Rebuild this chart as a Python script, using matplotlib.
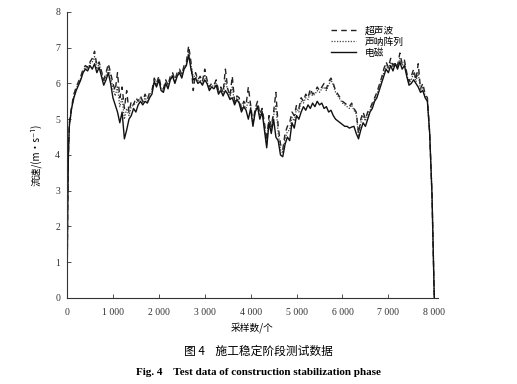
import matplotlib
matplotlib.use("Agg")
import matplotlib.pyplot as plt

# ---------------- data ----------------
samples = [0, 15, 30] + list(range(50, 7900, 50)) + [7900, 7950, 8000]

head = [0.0, 2.5, 4.0]
tail = [4.6, 2.9, 0.0]

em_body = [  # 电磁 (solid)
    4.8, 5.3, 5.6, 5.8, 5.95, 6.1, 6.3, 6.4, 6.35, 6.5,
    6.4, 6.55, 6.3, 6.45, 6.2, 5.95, 6.1, 6.3, 6.0, 5.6,
    5.4, 5.2, 4.9, 5.2, 4.45, 4.7, 5.0, 5.1, 5.3, 5.2,
    5.4, 5.5, 5.4, 5.5, 5.45, 5.6, 5.7, 6.05, 5.9, 6.1,
    5.8, 5.75, 6.0, 5.85, 6.1, 6.2, 6.0, 6.2, 6.3, 6.15,
    6.4, 6.5, 6.8, 6.4, 6.1, 6.15, 6.0, 6.05, 5.95, 6.1,
    6.0, 5.8, 5.9, 5.85, 5.95, 5.7, 5.8, 5.65, 5.8, 5.7,
    5.55, 5.6, 5.4, 5.55, 5.45, 5.2, 5.35, 5.25, 5.0, 5.3,
    4.8, 5.2, 5.35, 5.0, 5.2, 4.7, 4.2, 4.9, 4.6, 5.0,
    4.5, 4.4, 4.0, 3.95, 4.3, 4.5, 4.4, 4.9, 4.75, 5.1,
    5.0, 5.2, 5.35, 5.25, 5.4, 5.3, 5.45, 5.35, 5.5, 5.4,
    5.45, 5.3, 5.35, 5.2, 5.25, 5.1, 5.0, 4.95, 4.9, 4.85,
    4.8, 4.8, 4.75, 4.78, 4.8, 4.6, 4.45, 4.7, 4.9, 4.8,
    5.0, 5.2, 5.3, 5.5, 5.6, 5.8, 6.0, 6.2, 6.4, 6.3,
    6.5, 6.35, 6.55, 6.4, 6.6, 6.4, 6.5, 6.2, 5.95, 6.0,
    6.1, 6.0, 5.9, 5.75, 5.8, 5.6, 5.5,
]

us_body = [  # 超声波 (dashed)
    4.9, 5.35, 5.7, 5.9, 6.05, 6.2, 6.4, 6.5, 6.45, 6.6,
    6.7, 6.9, 6.5, 6.6, 6.35, 6.1, 6.3, 6.55, 6.3, 6.0,
    5.8, 6.3, 5.6, 5.9, 5.3, 5.8, 5.2, 5.5, 5.4, 5.6,
    5.5, 5.65, 5.5, 5.7, 5.55, 5.75, 5.8, 6.15, 6.0, 6.2,
    5.9, 5.85, 6.1, 5.95, 6.2, 6.3, 6.1, 6.3, 6.4, 6.25,
    6.5, 6.6, 7.05, 6.6, 5.8, 6.3, 6.1, 6.2, 6.05, 6.4,
    6.1, 5.9, 6.0, 5.95, 6.1, 5.8, 5.9, 5.75, 6.4, 5.85,
    5.65, 6.2, 5.5, 5.65, 5.6, 5.3, 5.5, 5.4, 5.9, 5.4,
    4.9, 5.3, 5.5, 5.15, 5.3, 4.9, 4.4, 5.1, 4.8, 5.2,
    5.75, 4.8, 4.3, 4.15, 4.6, 4.8, 4.9, 5.2, 5.1, 5.4,
    5.3, 5.6, 5.5, 5.7, 5.6, 5.85, 5.7, 5.75, 5.9, 5.8,
    5.9, 6.0, 5.85, 6.05, 6.15, 6.0, 5.8, 5.7, 5.6, 5.5,
    5.45, 5.4, 5.35, 5.45, 5.3, 5.2, 4.6, 5.0, 5.2, 5.0,
    5.2, 5.3, 5.45, 5.6, 5.75, 5.95, 6.15, 6.4, 6.6, 6.45,
    6.7, 6.5, 6.6, 6.5, 6.85, 6.55, 6.65, 6.3, 6.05, 6.2,
    6.4, 6.1, 6.55, 5.85, 6.0, 5.7, 5.6,
]

sonar_body = [  # 声呐阵列 (dotted)
    4.85, 5.3, 5.65, 5.85, 6.0, 6.15, 6.35, 6.45, 6.4, 6.55,
    6.6, 6.75, 6.4, 6.55, 6.3, 6.05, 6.2, 6.45, 6.2, 5.85,
    5.65, 5.9, 5.35, 5.6, 5.0, 5.3, 5.1, 5.35, 5.4, 5.45,
    5.5, 5.6, 5.45, 5.6, 5.5, 5.7, 5.75, 6.1, 5.95, 6.15,
    5.85, 5.8, 6.05, 5.9, 6.15, 6.25, 6.05, 6.25, 6.35, 6.2,
    6.45, 6.55, 6.9, 6.5, 6.2, 6.2, 6.05, 6.1, 6.0, 6.25,
    6.05, 5.85, 5.95, 5.9, 6.0, 5.75, 5.85, 5.7, 6.1, 5.8,
    5.6, 5.9, 5.45, 5.6, 5.5, 5.25, 5.4, 5.3, 5.5, 5.35,
    4.85, 5.25, 5.4, 5.1, 5.25, 4.8, 4.3, 5.0, 4.7, 5.1,
    5.4, 4.6, 4.15, 4.05, 4.45, 4.65, 4.7, 5.05, 4.95, 5.3,
    5.2, 5.5, 5.45, 5.6, 5.55, 5.75, 5.65, 5.7, 5.8, 5.75,
    5.85, 5.9, 5.8, 5.95, 6.1, 5.95, 5.75, 5.65, 5.55, 5.45,
    5.4, 5.35, 5.3, 5.4, 5.25, 5.15, 4.55, 4.9, 5.1, 4.95,
    5.1, 5.25, 5.4, 5.55, 5.7, 5.9, 6.1, 6.3, 6.5, 6.4,
    6.6, 6.45, 6.55, 6.45, 6.7, 6.5, 6.6, 6.25, 6.0, 6.1,
    6.3, 6.05, 6.3, 5.8, 5.9, 5.65, 5.55,
]

ultrasonic = head + us_body + tail
sonar = head + sonar_body + tail
electromag = head + em_body + tail

series_names = ["超声波", "声呐阵列", "电磁"]
xticks = [0, 1000, 2000, 3000, 4000, 5000, 6000, 7000, 8000]
xtick_labels = ["0", "1 000", "2 000", "3 000", "4 000", "5 000", "6 000", "7 000", "8 000"]
yticks = [0, 1, 2, 3, 4, 5, 6, 7, 8]

# ---------------- plot ----------------
CJK = ["Noto Sans CJK SC", "DejaVu Sans"]
SERIF = ["Liberation Serif", "DejaVu Serif"]

fig = plt.figure(figsize=(5.17, 3.84), dpi=100)
ax = fig.add_axes([0.1296, 0.224, 0.7175, 0.745])

ax.plot(samples, ultrasonic, color="#222222", lw=1.0, ls=(0, (4, 3)), label=series_names[0])
ax.plot(samples, sonar, color="#444444", lw=0.9, ls=(0, (1, 1.2)), label=series_names[1])
ax.plot(samples, electromag, color="#111111", lw=1.0, ls="-", label=series_names[2])

ax.set_xlim(0, 8080)
ax.set_ylim(0, 8)
ax.set_xticks(xticks)
ax.set_xticklabels(xtick_labels, fontfamily=SERIF, fontsize=7)
ax.set_yticks(yticks)
ax.set_yticklabels([str(v) for v in yticks], fontfamily=SERIF, fontsize=7)
ax.tick_params(direction="in", length=3, width=0.6, colors="#333333")
ax.tick_params(axis="x", pad=7)
ax.tick_params(axis="y", pad=5)
for s in ["top", "right"]:
    ax.spines[s].set_visible(False)
for s in ["left", "bottom"]:
    ax.spines[s].set_linewidth(0.8)
    ax.spines[s].set_color("#333333")

ax.set_xlabel("采样数/个", fontfamily=CJK, fontsize=7, labelpad=4)
ax.set_ylabel("流速/(m·s⁻¹)", fontfamily=CJK, fontsize=7, labelpad=10)

leg = ax.legend(loc="upper left", bbox_to_anchor=(0.70, 0.965), frameon=False,
                prop={"family": CJK, "size": 7}, handlelength=2.6,
                handletextpad=0.9, labelspacing=0.1, borderaxespad=0)

fig.text(0.5, 0.085, "图 4    施工稳定阶段测试数据", ha="center", va="center",
         fontfamily=CJK, fontsize=8.5)
fig.text(0.5, 0.03, "Fig. 4    Test data of construction stabilization phase", ha="center",
         va="center", fontfamily=SERIF, fontsize=8, fontweight="bold")

fig.savefig("out.png", dpi=100)
